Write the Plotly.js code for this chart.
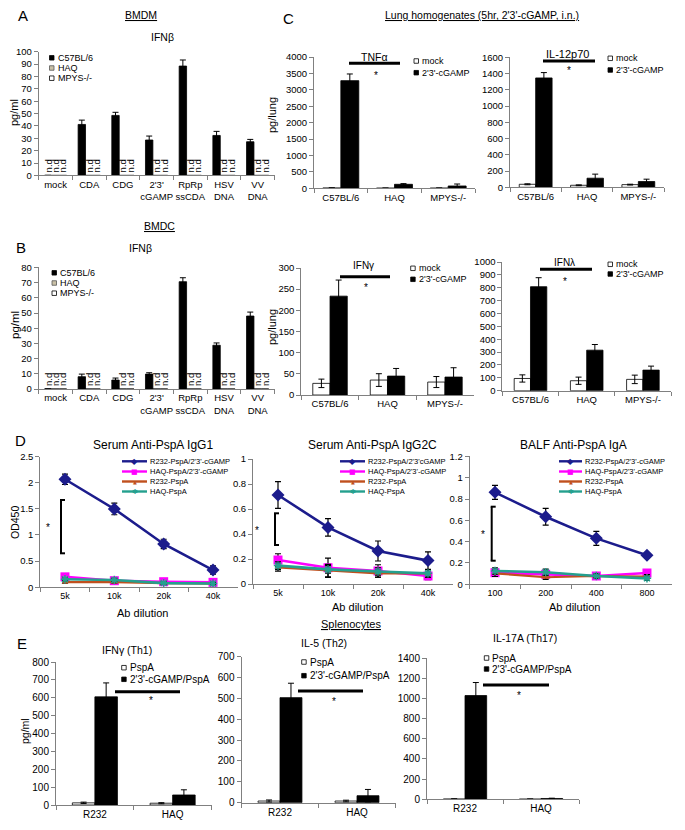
<!DOCTYPE html>
<html><head><meta charset="utf-8">
<script src="https://cdn.plot.ly/plotly-3.0.1.min.js"></script>
<style>html,body{margin:0;padding:0;background:#fff}#chart{width:685px;height:830px}</style>
</head><body><div id="chart"></div>
<script>
// ---------------- DATA ----------------
const stimCats = ["mock","CDA","CDG","2'3'<br>cGAMP","RpRp<br>ssCDA","HSV<br>DNA","VV<br>DNA"];
// null = n.d (not detected)
const bmdmC57 = [null,41.2,48.5,28.6,88.4,32.3,27.2];
const bmdmC57Err = [null,3.5,2.5,3.2,4.9,3.3,1.9];
const bmdmHAQ = [null,null,null,null,null,null,null];
const bmdmMPYS = [null,null,null,null,null,null,null];
const bmdcC57 = [null,8.1,5.9,9.8,70.6,28.8,48.0];
const bmdcC57Err = [null,1.7,1.3,0.9,2.6,1.5,2.6];
const bmdcHAQ = [null,null,null,null,null,null,null];
const bmdcMPYS = [null,null,null,null,null,null,null];

const mouseCats = ["C57BL/6","HAQ","MPYS-/-"];
const tnfMock = [10,5,6];        const tnfMockErr = [3,2,3];
const tnfCgamp = [3280,122,71];  const tnfCgampErr = [203,20,60];
const il12Mock = [37,25,33];     const il12MockErr = [6,5,5];
const il12Cgamp = [1346,112,71]; const il12CgampErr = [66,50,29];
const ifngMock = [27.5,35.3,30.6];  const ifngMockErr = [10,15,13];
const ifngCgamp = [233.5,44.7,42.4]; const ifngCgampErr = [38,18,22];
const iflMock = [95,77.5,88];    const iflMockErr = [28,28,33];
const iflCgamp = [808,315,160];  const iflCgampErr = [70,44,31];

const serumDil = ["5k","10k","20k","40k"];
const balfDil = ["100","200","400","800"];
const igg1R232Cg = [2.065,1.497,0.828,0.33]; const igg1R232CgErr = [0.1,0.11,0.09,0.08];
const igg1HAQCg = [0.2,0.126,0.107,0.095];   const igg1HAQCgErr = [0.04,0.03,0.03,0.03];
const igg1R232 = [0.1,0.1,0.08,0.07];        const igg1R232Err = [0.02,0.02,0.02,0.02];
const igg1HAQ = [0.153,0.14,0.08,0.074];     const igg1HAQErr = [0.03,0.03,0.02,0.02];
const igg2cR232Cg = [0.712,0.453,0.264,0.187]; const igg2cR232CgErr = [0.107,0.07,0.08,0.07];
const igg2cHAQCg = [0.192,0.13,0.104,0.064];   const igg2cHAQCgErr = [0.05,0.077,0.05,0.03];
const igg2cR232 = [0.133,0.107,0.085,0.085];   const igg2cR232Err = [0.03,0.05,0.03,0.03];
const igg2cHAQ = [0.147,0.117,0.1,0.085];      const igg2cHAQErr = [0.03,0.03,0.03,0.03];
const igaR232Cg = [0.8625,0.634,0.431,0.272];  const igaR232CgErr = [0.065,0.078,0.066,0.025];
const igaHAQCg = [0.109,0.094,0.078,0.106];    const igaHAQCgErr = [0.03,0.03,0.03,0.02];
const igaR232 = [0.103,0.066,0.078,0.072];     const igaR232Err = [0.03,0.02,0.02,0.02];
const igaHAQ = [0.125,0.113,0.078,0.056];      const igaHAQErr = [0.03,0.03,0.02,0.02];

const strainCats = ["R232","HAQ"];
const th1PspA = [12,10];    const th1PspAErr = [4,3];
const th1Cg = [605,56];     const th1CgErr = [78,29];
const th2PspA = [8,8];      const th2PspAErr = [5,4];
const th2Cg = [503,33.5];   const th2CgErr = [69,30];
const th17PspA = [3,2];     const th17PspAErr = [2,1];
const th17Cg = [1028,8];    const th17CgErr = [129,3];

// ---------------- LAYOUT HELPERS ----------------
const W = 685, H = 830, AX = '#808080';
const PX = x => x / W, PY = y => 1 - y / H;
const FONT = 'Liberation Sans, Arial, sans-serif';
const layout = {
  width: W, height: H, margin: {l:0,r:0,t:0,b:0},
  paper_bgcolor: '#fff', plot_bgcolor: 'rgba(0,0,0,0)',
  showlegend: false, barmode: 'overlay',
  font: {family: FONT, color: '#000', size: 10},
  shapes: [], annotations: []
};
function axName(n){ return n === 1 ? ['xaxis','yaxis','x','y'] : ['xaxis'+n,'yaxis'+n,'x'+n,'y'+n]; }
function addAxes(n, p){
  const [xk, yk, xr, yr] = axName(n);
  layout[xk] = {domain:[p.xl/W, p.xr/W], anchor: yr, type:'category', categoryorder:'array',
    categoryarray: p.cats, range:[-0.5, p.cats.length - 0.5], showline:true, linecolor:AX, linewidth:1,
    ticks:'outside', tickson:'boundaries', ticklen:4, tickcolor:AX, tickfont:{size:p.xtf}, tickangle:0,
    showgrid:false, zeroline:false, fixedrange:true};
  layout[yk] = {domain:[1 - p.yb/H, 1 - p.yt/H], anchor: xr, range: p.range, dtick: p.dtick, tick0:0,
    showline:true, linecolor:AX, linewidth:1, ticks:'outside', ticklen:4, tickcolor:AX,
    tickfont:{size:p.ytf}, showgrid:false, zeroline:false, fixedrange:true};
}
const panels = [
  {n:1, xl:38.7, xr:274.5, yt:51.7, yb:175.4, cats:stimCats, range:[0,100], dtick:10, xtf:9.5, ytf:9.5},
  {n:2, xl:38.7, xr:274.5, yt:267.4, yb:389, cats:stimCats, range:[0,80], dtick:10, xtf:9.5, ytf:9.5},
  {n:3, xl:314, xr:475, yt:57, yb:188.3, cats:mouseCats, range:[0,4000], dtick:500, xtf:9.5, ytf:9.5},
  {n:4, xl:510, xr:664, yt:57.3, yb:187.3, cats:mouseCats, range:[0,1600], dtick:200, xtf:9.5, ytf:9.5},
  {n:5, xl:301.3, xr:473.7, yt:268, yb:395, cats:mouseCats, range:[0,300], dtick:50, xtf:9.5, ytf:9.5},
  {n:6, xl:502.4, xr:671, yt:262, yb:390.7, cats:mouseCats, range:[0,1000], dtick:100, xtf:9.5, ytf:9.5},
  {n:7, xl:40.3, xr:237.7, yt:456.5, yb:587.3, cats:serumDil, range:[0,2.5], dtick:0.5, xtf:9, ytf:9.5},
  {n:8, xl:253, xr:453, yt:459, yb:584, cats:serumDil, range:[0,1], dtick:0.2, xtf:9, ytf:9.5},
  {n:9, xl:469.7, xr:672.3, yt:456.4, yb:584.3, cats:balfDil, range:[0,1.2], dtick:0.2, xtf:9, ytf:9.5},
  {n:10, xl:56, xr:211.5, yt:662, yb:805, cats:strainCats, range:[0,800], dtick:100, xtf:10, ytf:10},
  {n:11, xl:241.5, xr:395.5, yt:656.5, yb:802.7, cats:strainCats, range:[0,700], dtick:100, xtf:10, ytf:10},
  {n:12, xl:427, xr:579, yt:658, yb:799.3, cats:strainCats, range:[0,1400], dtick:200, xtf:10, ytf:10}
];
panels.forEach(p => addAxes(p.n, p));

// ---------------- TRACES ----------------
const traces = [];
function bar(n, cats, vals, errs, color, w, off){
  const [, , xr, yr] = axName(n);
  const t = {type:'bar', xaxis:xr, yaxis:yr, x:cats, y: vals.map(v => v == null ? 0 : v),
    width:w, offset:off, marker:{color:color, line:{color:'#000', width:0.8}},
    text: vals.map(v => v == null ? 'n.d' : ''), textposition:'outside', textangle:-90,
    textfont:{size:9.5, color:'#000', family:FONT}, constraintext:'none', cliponaxis:false,
    hoverinfo:'skip', showlegend:false};
  if (errs) t.error_y = {type:'data', array: errs.map((e,i) => vals[i] == null ? null : e),
    visible:true, color:'#000', thickness:1, width:3};
  return t;
}
const HAQC = '#c9c0a6';
// A / B: three bars per group
[[1, bmdmC57, bmdmC57Err, bmdmHAQ, bmdmMPYS],[2, bmdcC57, bmdcC57Err, bmdcHAQ, bmdcMPYS]].forEach(([n,c,ce,h,m]) => {
  const w = 0.22;
  traces.push(bar(n, stimCats, c, ce, '#000', w, -1.5*w));
  traces.push(bar(n, stimCats, h, null, HAQC, w, -0.5*w));
  traces.push(bar(n, stimCats, m, null, '#fff', w, 0.5*w));
});
// C and E: two bars per group
[[3, mouseCats, tnfMock, tnfMockErr, tnfCgamp, tnfCgampErr, 0.335],
 [4, mouseCats, il12Mock, il12MockErr, il12Cgamp, il12CgampErr, 0.32],
 [5, mouseCats, ifngMock, ifngMockErr, ifngCgamp, ifngCgampErr, 0.30],
 [6, mouseCats, iflMock, iflMockErr, iflCgamp, iflCgampErr, 0.29],
 [10, strainCats, th1PspA, th1PspAErr, th1Cg, th1CgErr, 0.29],
 [11, strainCats, th2PspA, th2PspAErr, th2Cg, th2CgErr, 0.285],
 [12, strainCats, th17PspA, th17PspAErr, th17Cg, th17CgErr, 0.285]
].forEach(([n, cats, a, ae, b, be, w]) => {
  traces.push(bar(n, cats, a, ae, '#fff', w, -w));
  traces.push(bar(n, cats, b, be, '#000', w, 0));
});
// D: lines
const LC = {navy:'#1c1c8c', mag:'#ff00ff', brown:'#c0501e', teal:'#24a08e'};
function line(n, cats, vals, errs, color, sym, size, lw, mline){
  const [, , xr, yr] = axName(n);
  return {type:'scatter', mode:'lines+markers', xaxis:xr, yaxis:yr, x:cats, y:vals,
    line:{color:color, width:lw}, marker:{symbol:sym, size:size, color:color, line:mline || {width:0}},
    error_y:{type:'data', array:errs, visible:true, color:'#000', thickness:1.2, width:3},
    hoverinfo:'skip', showlegend:false, cliponaxis:false};
}
[[7, serumDil, igg1R232Cg, igg1R232CgErr, igg1HAQCg, igg1HAQCgErr, igg1R232, igg1R232Err, igg1HAQ, igg1HAQErr],
 [8, serumDil, igg2cR232Cg, igg2cR232CgErr, igg2cHAQCg, igg2cHAQCgErr, igg2cR232, igg2cR232Err, igg2cHAQ, igg2cHAQErr],
 [9, balfDil, igaR232Cg, igaR232CgErr, igaHAQCg, igaHAQCgErr, igaR232, igaR232Err, igaHAQ, igaHAQErr]
].forEach(([n, cats, a, ae, b, be, c, ce, d, de]) => {
  traces.push(line(n, cats, a, ae, LC.navy, 'diamond', 10, 2.6));
  traces.push(line(n, cats, b, be, LC.mag, 'square', 9, 2.6));
  traces.push(line(n, cats, c, ce, LC.brown, 'triangle-up', 6, 2.2));
  traces.push(line(n, cats, d, de, LC.teal, 'asterisk-open', 7, 2.6, {color:LC.teal, width:1.5}));
});

// ---------------- DECORATION ----------------
const A = layout.annotations, S = layout.shapes;
function txt(x, y, text, size, opts){
  A.push(Object.assign({xref:'paper', yref:'paper', x:PX(x), y:PY(y), text:text, showarrow:false,
    font:{size:size, color:'#000', family:FONT}, xanchor:'center', yanchor:'middle'}, opts || {}));
}
function hline(x0, x1, y, w, color){
  S.push({type:'line', xref:'paper', yref:'paper', x0:PX(x0), x1:PX(x1), y0:PY(y), y1:PY(y), line:{color:color||'#000', width:w}});
}
function vline(x, y0, y1, w){
  S.push({type:'line', xref:'paper', yref:'paper', x0:PX(x), x1:PX(x), y0:PY(y0), y1:PY(y1), line:{color:'#000', width:w}});
}
function legSq(x, y, fill, label, fs, sz, border){
  sz = sz || 4.5;
  S.push({type:'rect', xref:'paper', yref:'paper', x0:PX(x), x1:PX(x+sz), y0:PY(y+sz/2), y1:PY(y-sz/2),
    fillcolor:fill, line:{color:border||'#000', width:0.8}});
  txt(x+sz+1.5, y, label, fs, {xanchor:'left'});
}
function legLine(x0, x1, y, color, glyph, gsize, label){
  hline(x0, x1, y, 2.4, color);
  A.push({xref:'paper', yref:'paper', x:PX((x0+x1)/2), y:PY(y), text:glyph, showarrow:false,
    font:{size:gsize, color:color, family:'DejaVu Sans'}, xanchor:'center', yanchor:'middle'});
  txt(x1+1, y, label, 7.5, {xanchor:'left'});
}
function star(x, y){ txt(x, y+3, '*', 10); }
function bracket(x, y0, y1){
  vline(x, y0, y1, 2); hline(x-1, x+4, y0, 2); hline(x-1, x+4, y1, 2);
}

// panel letters
txt(23, 15.5, 'A', 15); txt(21, 247.5, 'B', 15); txt(288, 18, 'C', 15);
txt(20, 440, 'D', 15); txt(22, 643, 'E', 15);
// headers
txt(141, 15, '<u>BMDM</u>', 10.5);
txt(159, 226, '<u>BMDC</u>', 10.5);
txt(482, 15, "<u>Lung homogenates (5hr, 2'3'-cGAMP, i.n.)</u>", 10.5);
txt(351, 624, '<u>Splenocytes</u>', 11);
// A/B
txt(162, 37, 'IFNβ', 10.5); txt(140, 248, 'IFNβ', 10.5);
txt(14, 113, 'pg/ml', 11, {textangle:-90}); txt(15, 325, 'pg/ml', 11.5, {textangle:-90});
legSq(49.5, 57.8, '#000', 'C57BL/6', 9); legSq(49.5, 68, HAQC, 'HAQ', 9, 4.5, '#555'); legSq(49.5, 78.2, '#fff', 'MPYS-/-', 9);
legSq(52, 272.8, '#000', 'C57BL/6', 9); legSq(52, 283, HAQC, 'HAQ', 9, 4.5, '#555'); legSq(52, 293.2, '#fff', 'MPYS-/-', 9);
// C
txt(272, 115, 'pg/lung', 11, {textangle:-90}); txt(272, 327, 'pg/lung', 11, {textangle:-90});
txt(374, 57, 'TNFα', 10.5); txt(567, 54.5, 'IL-12p70', 11); txt(363, 265.5, 'IFNγ', 10); txt(564, 262, 'IFNλ', 10);
legSq(414, 61, '#fff', 'mock', 9); legSq(414, 72.7, '#000', "2'3'-cGAMP", 9);
legSq(608, 58.3, '#fff', 'mock', 9); legSq(608, 70, '#000', "2'3'-cGAMP", 9);
legSq(410.7, 268.3, '#fff', 'mock', 9); legSq(410.7, 279.3, '#000', "2'3'-cGAMP", 9);
legSq(608, 264.3, '#fff', 'mock', 9); legSq(608, 274, '#000', "2'3'-cGAMP", 9);
hline(349, 400, 63.3, 3); star(376, 72);
hline(543, 595, 61, 3); star(569, 68);
hline(340, 390, 276.7, 3); star(366, 284);
hline(540, 592, 269.3, 3); star(565, 278);
// D
txt(153, 445, 'Serum Anti-PspA IgG1', 12); txt(372, 445, 'Serum Anti-PspA IgG2C', 12); txt(573, 445, 'BALF Anti-PspA IgA', 12);
txt(142, 613, 'Ab dilution', 11); txt(357, 607, 'Ab dilution', 11); txt(574, 607, 'Ab dilution', 11);
txt(15, 523, 'OD450', 10.5, {textangle:-90});
[[122,147,["R232-PspA/2'3'-cGAMP","HAQ-PspA/2'3'-cGAMP","R232-PspA","HAQ-PspA"]],
 [340,365,["R232-PspA/2'3'cGAMP","HAQ-PspA/2'3'-cGAMP","R232-PspA","HAQ-PspA"]],
 [559,582,["R232-PspA/2'3'-cGAMP","HAQ-PspA/2'3'-cGAMP","R232-PspA","HAQ-PspA"]]
].forEach(([x0,x1,labs]) => {
  legLine(x0, x1, 461.3, LC.navy, '◆', 8, labs[0]);
  legLine(x0, x1, 471.5, LC.mag, '■', 7, labs[1]);
  legLine(x0, x1, 481.5, LC.brown, '▲', 5, labs[2]);
  legLine(x0, x1, 491.5, LC.teal, '✱', 7, labs[3]);
});
bracket(61, 500, 553.3); star(48, 524);
bracket(275, 513.3, 545); star(257, 527);
bracket(491.7, 506.7, 560.7); star(483, 531);
// E
txt(127, 650, 'IFNγ (Th1)', 10.5); txt(324, 643, 'IL-5 (Th2)', 10.5); txt(525, 638, 'IL-17A (Th17)', 10.5);
txt(25, 731, 'pg/ml', 10.5, {textangle:-90});
legSq(121.7, 667.7, '#fff', 'PspA', 10); legSq(121.7, 679.3, '#000', "2'3'-cGAMP/PspA", 10);
legSq(301.7, 662, '#fff', 'PspA', 10); legSq(301.7, 675.7, '#000', "2'3'-cGAMP/PspA", 10);
legSq(484.3, 658, '#fff', 'PspA', 10); legSq(484.3, 669, '#000', "2'3'-cGAMP/PspA", 10);
hline(115, 180, 691.7, 3); star(151, 697);
hline(298, 363, 691, 3); star(334, 698);
hline(483, 549, 685, 3); star(519, 692);

Plotly.newPlot('chart', traces, layout, {displayModeBar:false, staticPlot:true});
</script>
</body></html>
